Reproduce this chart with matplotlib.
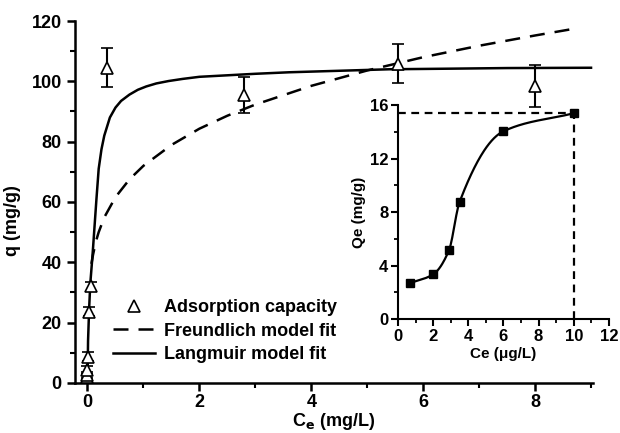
import numpy as np
import matplotlib
matplotlib.use("Agg")
import matplotlib.pyplot as plt
from matplotlib.ticker import MultipleLocator
from matplotlib.lines import Line2D

plt.rcParams['font.family'] = ['Liberation Sans', 'DejaVu Sans']
plt.rcParams['font.weight'] = 'bold'
plt.rcParams['mathtext.default'] = 'bf'

# adsorption capacity (main plot)
ce_obs = [0.0, 0.0, 0.0, 0.01, 0.02, 0.07, 0.35, 2.8, 5.55, 8.0]
q_obs = [2.0, 2.6, 4.3, 8.7, 23.6, 32.0, 104.5, 95.5, 105.8, 98.5]
q_err = [1.0, 1.0, 1.2, 1.5, 1.5, 1.5, 6.5, 6.0, 6.5, 7.0]

# Freundlich fit
ce_fr = [0.07, 0.1, 0.15, 0.2, 0.3, 0.5, 0.75, 1.0, 1.5, 2.0, 2.5, 3.0,
         4.0, 5.0, 6.0, 7.0, 8.0, 8.75]
q_fr = [39.5, 42.6, 46.9, 50.0, 54.9, 61.6, 67.5, 72.0, 78.9, 84.3, 88.6,
        92.3, 98.5, 103.6, 108.0, 111.8, 115.2, 117.6]

# Langmuir fit
ce_la = [0.0, 0.01, 0.03, 0.05, 0.08, 0.1, 0.13, 0.16, 0.2, 0.25, 0.3, 0.4,
         0.5, 0.6, 0.75, 0.9, 1.05, 1.23, 1.45, 1.7, 2.0, 2.5, 3.0, 3.6,
         4.5, 5.4, 6.5, 7.5, 9.0]
q_la = [0.0, 14.0, 25.0, 33.0, 40.0, 45.0, 53.0, 61.0, 71.0, 77.5, 82.0,
        88.0, 91.3, 93.5, 95.6, 97.2, 98.3, 99.3, 100.1, 100.8, 101.5,
        102.0, 102.5, 103.0, 103.5, 104.0, 104.2, 104.4, 104.5]

# inset
ce_in = [0.7, 2.0, 2.9, 3.5, 6.0, 10.0]
qe_in = [2.7, 3.35, 5.15, 8.75, 14.05, 15.4]


def smooth_line(x, y, n=200):
    # monotone cubic (Fritsch-Carlson) just for drawing the connecting line
    x = np.asarray(x, float)
    y = np.asarray(y, float)
    h = np.diff(x)
    d = np.diff(y) / h
    m = np.zeros_like(y)
    m[0], m[-1] = d[0], d[-1]
    for i in range(1, len(x) - 1):
        if d[i - 1] * d[i] > 0:
            w1 = 2 * h[i] + h[i - 1]
            w2 = h[i] + 2 * h[i - 1]
            m[i] = (w1 + w2) / (w1 / d[i - 1] + w2 / d[i])
    xs = np.linspace(x[0], x[-1], n)
    idx = np.clip(np.searchsorted(x, xs) - 1, 0, len(x) - 2)
    t = (xs - x[idx]) / h[idx]
    h00 = 2 * t**3 - 3 * t**2 + 1
    h10 = t**3 - 2 * t**2 + t
    h01 = -2 * t**3 + 3 * t**2
    h11 = t**3 - t**2
    ys = h00 * y[idx] + h10 * h[idx] * m[idx] + h01 * y[idx + 1] + h11 * h[idx] * m[idx + 1]
    return xs, ys


fig = plt.figure(figsize=(6.2, 4.33), dpi=100)
ax = fig.add_axes([0.121, 0.1155, 0.835, 0.836])

ax.errorbar(ce_obs, q_obs, yerr=q_err, fmt='^', mfc='white', mec='black',
            ms=9, mew=1.2, ecolor='black', elinewidth=1.5, capsize=4,
            capthick=1.5, zorder=3)
fr_line, = ax.plot(ce_fr, q_fr, color='black', lw=1.8, dashes=(6, 4))
la_line, = ax.plot(ce_la, q_la, color='black', lw=1.8)

ax.set_xlim(-0.223, 9.03)
ax.set_ylim(0, 120)
ax.xaxis.set_major_locator(MultipleLocator(2))
ax.xaxis.set_minor_locator(MultipleLocator(1))
ax.yaxis.set_major_locator(MultipleLocator(20))
ax.yaxis.set_minor_locator(MultipleLocator(10))
for s in ['top', 'right']:
    ax.spines[s].set_visible(False)
for s in ['left', 'bottom']:
    ax.spines[s].set_linewidth(1.8)
ax.tick_params(which='major', length=6, width=1.8, labelsize=13)
ax.tick_params(axis='x', which='major', pad=2)
ax.tick_params(which='minor', length=3.5, width=1.5)
ax.set_xlabel('C$_e$ (mg/L)', fontsize=13, fontweight='bold', labelpad=0)
ax.set_ylabel('q (mg/g)', fontsize=13, fontweight='bold')
ax.yaxis.set_label_coords(-0.105, 0.45)

tri = Line2D([], [], ls='none', marker='^', mfc='white', mec='black', ms=9, mew=1.2)
leg = ax.legend([tri, fr_line, la_line],
                ['Adsorption capacity', 'Freundlich model fit', 'Langmuir model fit'],
                loc='lower left', bbox_to_anchor=(0.06, 0.035), frameon=False,
                fontsize=13, handlelength=2.3, handletextpad=0.5,
                labelspacing=0.35, borderaxespad=0)
for t in leg.get_texts():
    t.set_fontweight('bold')

# inset
ins = fig.add_axes([0.642, 0.263, 0.340, 0.494])
xs, ys = smooth_line(ce_in, qe_in)
ins.plot(xs, ys, color='black', lw=1.6)
ins.plot(ce_in, qe_in, 's', color='black', ms=5.5)
ins.plot([0, ce_in[-1]], [qe_in[-1], qe_in[-1]], color='black', lw=1.6, dashes=(3.5, 2.5))
ins.plot([ce_in[-1], ce_in[-1]], [0, qe_in[-1]], color='black', lw=1.6, dashes=(3.5, 2.5))
ins.set_xlim(0, 12)
ins.set_ylim(0, 16)
ins.xaxis.set_major_locator(MultipleLocator(2))
ins.xaxis.set_minor_locator(MultipleLocator(1))
ins.yaxis.set_major_locator(MultipleLocator(4))
ins.yaxis.set_minor_locator(MultipleLocator(2))
ins.patch.set_alpha(0)
for s in ['top', 'right']:
    ins.spines[s].set_visible(False)
for s in ['left', 'bottom']:
    ins.spines[s].set_linewidth(1.5)
ins.tick_params(which='major', length=5, width=1.5, labelsize=12, pad=2)
ins.tick_params(which='minor', length=3, width=1.3)
ins.set_xlabel('Ce (μg/L)', fontsize=11, fontweight='bold', labelpad=2)
ins.set_ylabel('Qe (mg/g)', fontsize=11, fontweight='bold', labelpad=3)

fig.savefig('out.png', dpi=100)
